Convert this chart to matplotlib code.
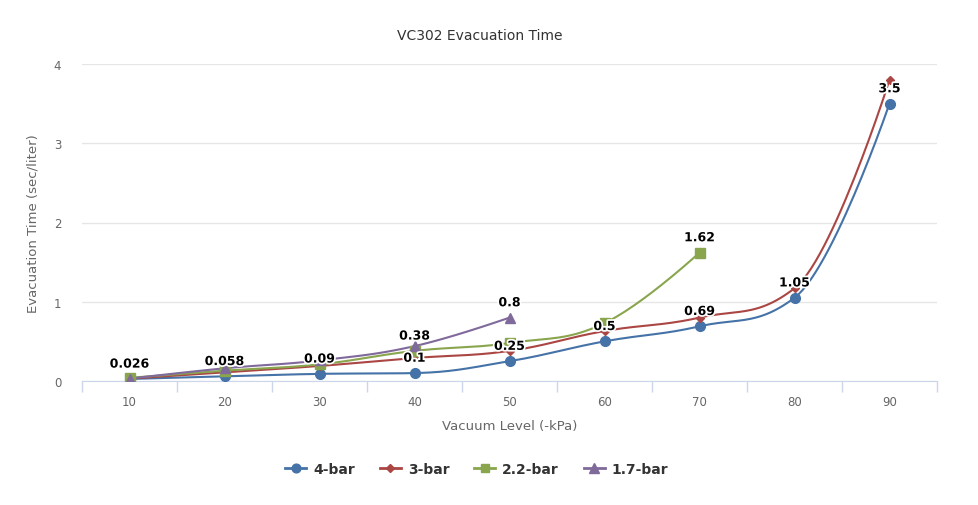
import matplotlib.pyplot as plt
import matplotlib.patheffects as pe
import numpy as np

# Data
categories = ["10", "20", "30", "40", "50", "60", "70", "80", "90"]
bar4 = [0.026, 0.058, 0.09, 0.1, 0.25, 0.5, 0.69, 1.05, 3.5]
bar3 = [0.03, 0.11, 0.19, 0.29, 0.38, 0.63, 0.8, 1.17, 3.8]
bar22 = [0.04, 0.13, 0.21, 0.38, 0.48, 0.73, 1.62]
bar17 = [0.03, 0.16, 0.26, 0.44, 0.8]

names = ["4-bar", "3-bar", "2.2-bar", "1.7-bar"]
values = [bar4, bar3, bar22, bar17]
colors = ["#4572A7", "#AA4643", "#89A54E", "#80699B"]
markers = ["o", "D", "s", "^"]
msizes = [7, 4.5, 6.5, 7.5]
# which points carry a visible data label (others hidden by overlap)
shown_labels = [list(range(9)), [], [3, 6], [4]]


# Highcharts-like spline (cubic bezier with smoothing 1.5)
def spline(xs, ys, n=30):
    xs = list(map(float, xs))
    ys = list(map(float, ys))
    k = len(xs)
    sm = 1.5
    d = sm + 1
    lc = [(x, y) for x, y in zip(xs, ys)]
    rc = [(x, y) for x, y in zip(xs, ys)]
    for i in range(1, k - 1):
        px, py = xs[i], ys[i]
        lx, ly = xs[i - 1], ys[i - 1]
        nx, ny = xs[i + 1], ys[i + 1]
        lcx = (sm * px + lx) / d
        lcy = (sm * py + ly) / d
        rcx = (sm * px + nx) / d
        rcy = (sm * py + ny) / d
        corr = 0
        if rcx != lcx:
            corr = ((rcy - lcy) * (rcx - px)) / (rcx - lcx) + py - rcy
        lcy += corr
        rcy += corr
        if lcy > ly and lcy > py:
            lcy = max(ly, py)
            rcy = 2 * py - lcy
        elif lcy < ly and lcy < py:
            lcy = min(ly, py)
            rcy = 2 * py - lcy
        if rcy > ny and rcy > py:
            rcy = max(ny, py)
            lcy = 2 * py - rcy
        elif rcy < ny and rcy < py:
            rcy = min(ny, py)
            lcy = 2 * py - rcy
        lc[i] = (lcx, lcy)
        rc[i] = (rcx, rcy)
    t = np.linspace(0, 1, n)
    ox, oy = [], []
    for i in range(1, k):
        p0 = (xs[i - 1], ys[i - 1])
        p1 = rc[i - 1]
        p2 = lc[i]
        p3 = (xs[i], ys[i])
        a = (1 - t) ** 3
        b = 3 * (1 - t) ** 2 * t
        c = 3 * (1 - t) * t ** 2
        e = t ** 3
        ox.extend(a * p0[0] + b * p1[0] + c * p2[0] + e * p3[0])
        oy.extend(a * p0[1] + b * p1[1] + c * p2[1] + e * p3[1])
    return np.array(ox), np.array(oy)


plt.rcParams['font.family'] = ['DejaVu Sans']

fig = plt.figure(figsize=(9.79, 5.06), dpi=100)
ax = fig.add_axes([82 / 979, 1 - 382 / 506, (937 - 82) / 979, (382 - 65) / 506])

for name, vals, col, mk, ms, lab in zip(names, values, colors, markers, msizes, shown_labels):
    xi = np.arange(len(vals))
    sx, sy = spline(xi, vals)
    ax.plot(sx, sy, color=col, lw=1.5, zorder=3)
    ax.plot(xi, vals, linestyle="none", marker=mk, color=col, markersize=ms,
            markeredgecolor=col, zorder=4, label=name)
    for i in lab:
        ax.annotate(f"{vals[i]:g}", (xi[i], vals[i]), xytext=(0, 6),
                    textcoords="offset points", ha="center", va="bottom",
                    fontsize=9, fontweight="bold", color="black", zorder=6,
                    path_effects=[pe.withStroke(linewidth=2.5, foreground="white")])

ax.set_xlim(-0.5, 8.5)
ax.set_ylim(0, 4)
ax.set_yticks([0, 1, 2, 3, 4])
ax.set_xticks(range(len(categories)))
ax.set_xticklabels(categories)
ax.set_xticks(np.arange(-0.5, 9, 1), minor=True)
ax.tick_params(axis="x", which="major", length=0, pad=10, labelsize=8.5, labelcolor="#666666")
ax.tick_params(axis="x", which="minor", length=8, color="#ccd6eb", width=1)
ax.tick_params(axis="y", length=0, pad=15, labelsize=8.5, labelcolor="#666666")

ax.grid(axis="y", color="#e6e6e6", lw=1)
ax.set_axisbelow(True)
for s in ["top", "right", "left"]:
    ax.spines[s].set_visible(False)
ax.spines["bottom"].set_color("#ccd6eb")

ax.set_xlabel("Vacuum Level (-kPa)", fontsize=9.5, color="#666666", labelpad=8)
ax.set_ylabel("Evacuation Time (sec/liter)", fontsize=9.5, color="#666666", labelpad=10)
fig.text(0.49, 1 - 36 / 506, "VC302 Evacuation Time", ha="center", va="center",
         fontsize=10, color="#333333")

handles = []
for col, mk, ms in zip(colors, markers, msizes):
    h, = ax.plot([], [], color=col, lw=2, marker=mk, markersize=ms * 0.9)
    handles.append(h)
leg = fig.legend(handles, names, loc="center", bbox_to_anchor=(0.487, 1 - 470 / 506),
                 ncol=4, frameon=False, handlelength=1.5, handletextpad=0.5,
                 columnspacing=1.8, prop={"size": 10, "weight": "bold"})
for t in leg.get_texts():
    t.set_color("#333333")

fig.savefig("out.png", dpi=100)
